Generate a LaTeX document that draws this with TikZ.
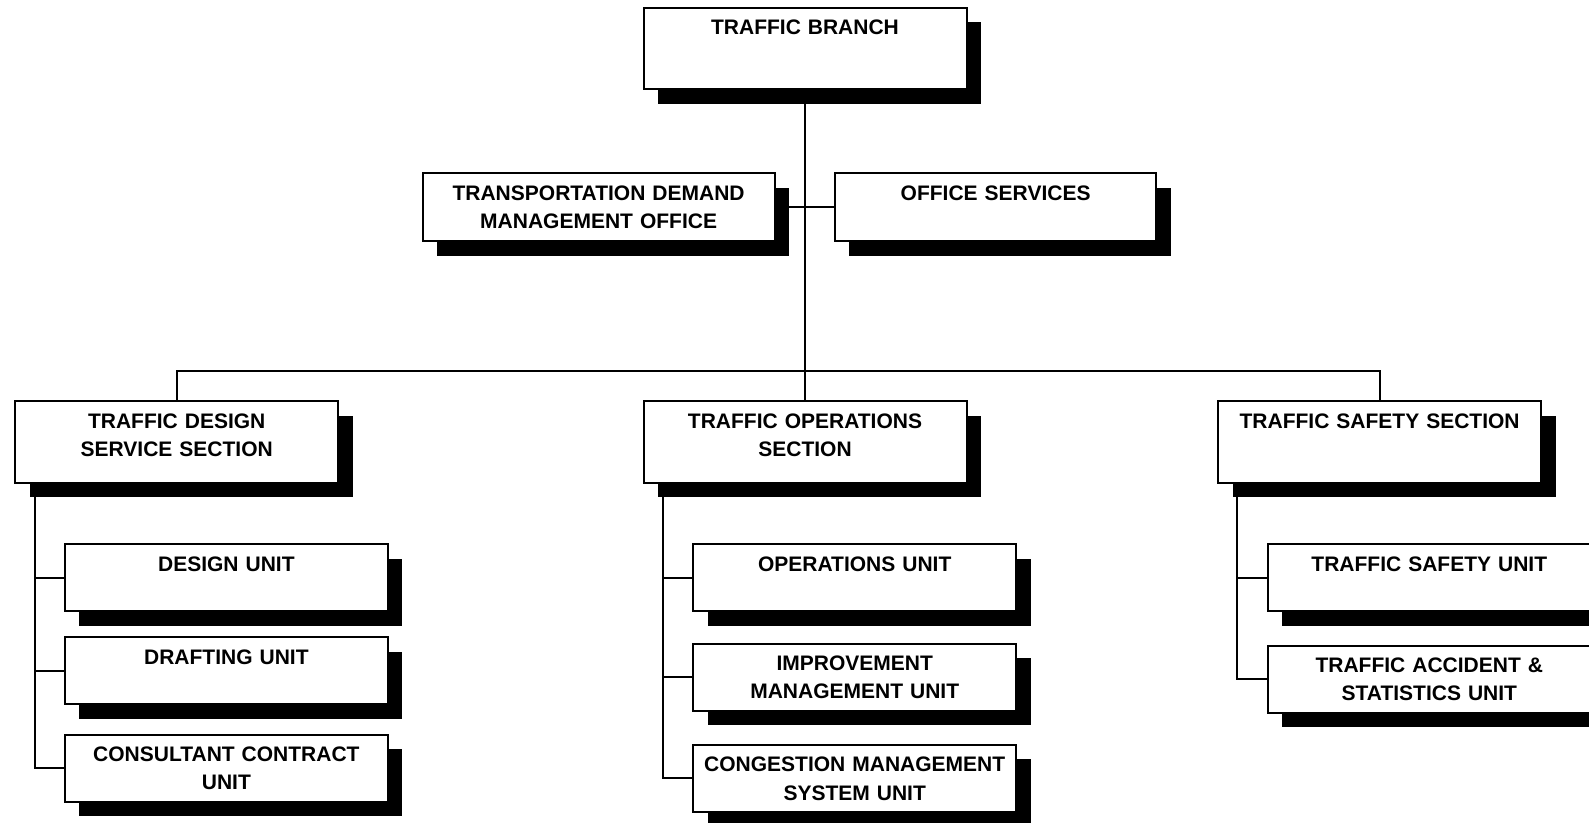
\documentclass[tikz,border=0pt]{standalone}
\usepackage{fontspec}
\setmainfont{Liberation Sans}
\usetikzlibrary{shadows, backgrounds}

\begin{document}
\begin{tikzpicture}[
    x=0.5pt, y=-0.5pt,
    box/.style={draw=black, line width=1pt, fill=white, inner sep=0pt, outer sep=0pt, text width=161.5pt, align=center,
        text height=13.4pt, text depth=27.2pt, anchor=north west,
        drop shadow={shadow xshift=7.2pt, shadow yshift=-7.2pt, fill=black, opacity=1}},
    unit/.style={box, text depth=20.1pt},
    link/.style={line width=1pt},
    font=\bfseries\fontsize{10.5}{14.2}\selectfont
]
    \useasboundingbox (0,0) rectangle (1589,823);
    \clip (0,0) rectangle (1589,823);

    % --- BRANCH ---
    \node[box] (tb) at (643.5, 8.1) {TRAFFIC BRANCH};
    \node[box, text width=176pt, text depth=20.6pt] (tdm) at (422.6, 173.3) {TRANSPORTATION DEMAND\\MANAGEMENT OFFICE};
    \node[box, text width=160.6pt, text depth=20.6pt] (os) at (835, 173.3) {OFFICE SERVICES};

    % --- SECTIONS ---
    \node[box] (tds) at (15.2, 401.3) {TRAFFIC DESIGN\\SERVICE SECTION};
    \node[box] (tos) at (643.5, 401.3) {TRAFFIC OPERATIONS\\SECTION};
    \node[box] (tss) at (1218.1, 401.3) {TRAFFIC SAFETY SECTION};

    % --- UNITS ---
    \node[unit] (du) at (64.9, 544.2) {DESIGN UNIT};
    \node[unit] (dru) at (64.9, 637.4) {DRAFTING UNIT};
    \node[unit] (ccu) at (64.9, 734.7) {CONSULTANT CONTRACT\\UNIT};

    \node[unit] (opu) at (693.2, 544.2) {OPERATIONS UNIT};
    \node[unit] (imu) at (693.2, 643.5) {IMPROVEMENT\\MANAGEMENT UNIT};
    \node[unit] (cmu) at (693.2, 744.8) {CONGESTION MANAGEMENT\\SYSTEM UNIT};

    \node[unit] (tsu) at (1267.8, 544.2) {TRAFFIC SAFETY UNIT};
    \node[unit] (tau) at (1267.8, 645.5) {TRAFFIC ACCIDENT \&\\STATISTICS UNIT};

    % lines go behind the boxes and shadows
    \begin{scope}[on background layer]
        \draw[link] (tb.south) -- (tos.north);
        \draw[link] (tdm.east) -- (os.west);
        \draw[link] (tds.north) -- ++(0,-30.4) -| (tss.north);
        \foreach \u in {du, dru, ccu}
            \draw[link] ([xshift=9.65pt]tds.south west) |- (\u.west);
        \foreach \u in {opu, imu, cmu}
            \draw[link] ([xshift=9.65pt]tos.south west) |- (\u.west);
        \foreach \u in {tsu, tau}
            \draw[link] ([xshift=9.65pt]tss.south west) |- (\u.west);
    \end{scope}
\end{tikzpicture}
\end{document}
